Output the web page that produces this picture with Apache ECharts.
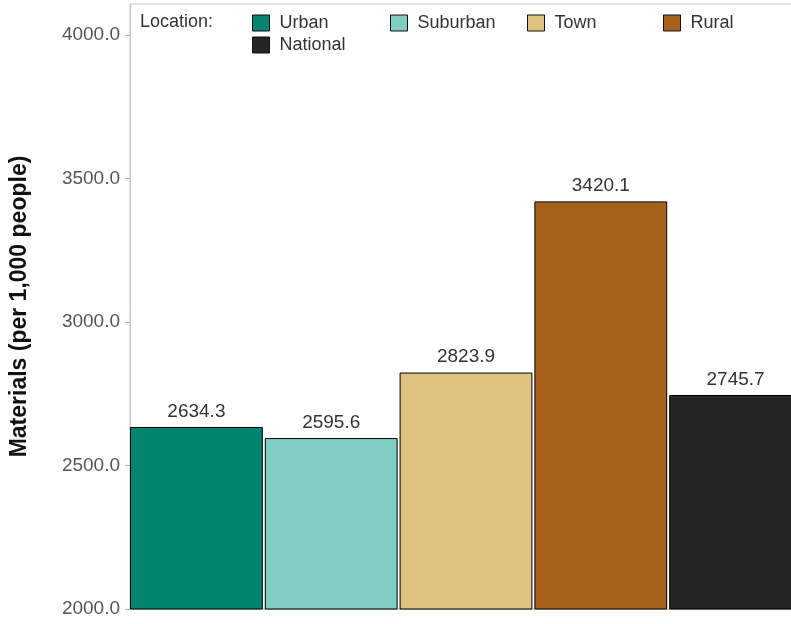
<!DOCTYPE html>
<html>
<head>
<meta charset="utf-8">
<script src="https://cdn.jsdelivr.net/npm/echarts@6/dist/echarts.min.js"></script>
<style>
html,body{margin:0;padding:0;background:#fff;}
#chart{width:791px;height:624px;}
</style>
</head>
<body>
<div id="chart"></div>
<script>
var seriesNames = ['Urban', 'Suburban', 'Town', 'Rural', 'National'];
var seriesValues = [2634.3, 2595.6, 2823.9, 3420.1, 2745.7];
var seriesColors = ['#018571', '#80cdc1', '#dfc27d', '#a6611a', '#252525'];
var categories = ['Materials'];
var yTicks = [2000, 2500, 3000, 3500, 4000];

var FONT = '"Liberation Sans", Arial, sans-serif';
var chart = echarts.init(document.getElementById('chart'), null, {renderer: 'canvas'});

var series = seriesNames.map(function (name, i) {
  return {
    name: name,
    type: 'bar',
    data: [seriesValues[i]],
    barGap: '1.5%',
    barCategoryGap: '0%',
    itemStyle: {color: seriesColors[i], borderColor: '#000', borderWidth: 1},
    label: {
      show: true,
      position: 'top',
      distance: 6,
      formatter: function (p) { return p.value.toFixed(1); },
      fontFamily: FONT,
      fontSize: 19,
      color: '#333'
    },
    emphasis: {disabled: true}
  };
});

var legendPos = [[252, 14], [390, 14], [527, 14], [663, 14], [252, 36]];
var legends = seriesNames.map(function (name, i) {
  return {
    data: [name],
    left: legendPos[i][0],
    top: legendPos[i][1],
    padding: 0,
    icon: 'rect',
    itemWidth: 17,
    itemHeight: 16,
    selectedMode: false,
    itemStyle: {borderColor: '#111', borderWidth: 1},
    textStyle: {fontFamily: FONT, fontSize: 18, color: '#333', padding: [0, 0, 0, 5]}
  };
});

chart.setOption({
  animation: false,
  textStyle: {fontFamily: FONT},
  grid: {left: 130, right: -11, top: 4, bottom: 15, containLabel: false, outerBoundsMode: 'none',
         show: true, borderColor: '#c8c8c8', borderWidth: 1, backgroundColor: 'transparent'},
  legend: legends,
  graphic: [{
    type: 'text',
    left: 140,
    top: 13,
    style: {text: 'Location:', font: '18px "Liberation Sans", Arial, sans-serif', fill: '#333'}
  }],
  xAxis: {
    type: 'category',
    data: categories,
    axisLine: {show: true, lineStyle: {color: '#c8c8c8', width: 1}},
    axisTick: {show: false},
    axisLabel: {show: false}
  },
  yAxis: {
    type: 'value',
    min: yTicks[0],
    max: 4108,
    interval: 500,
    name: 'Materials (per 1,000 people)',
    nameLocation: 'middle',
    nameGap: 99,
    nameTextStyle: {fontFamily: FONT, fontSize: 23, fontWeight: 'bold', color: '#111'},
    axisLine: {show: true, lineStyle: {color: '#c8c8c8', width: 1}},
    axisTick: {show: true, length: 5, customValues: yTicks, lineStyle: {color: '#aaa'}},
    axisLabel: {
      fontFamily: FONT, fontSize: 19, color: '#555', margin: 10,
      customValues: yTicks,
      formatter: function (v) { return Number(v).toFixed(1); }
    },
    splitLine: {show: false}
  },
  series: series
});
</script>
</body>
</html>
